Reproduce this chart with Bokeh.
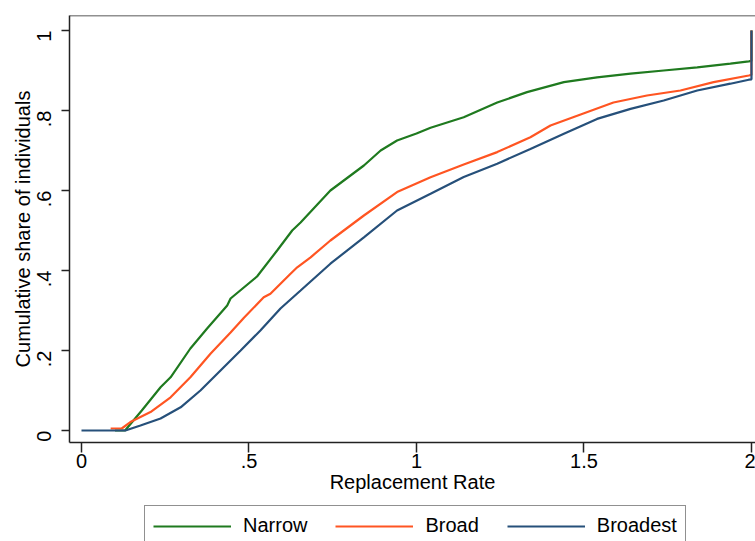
import math
from bokeh.plotting import figure
from bokeh.layouts import column
from bokeh.models import FixedTicker, Legend, LegendItem, Span, Range1d
from bokeh.embed import file_html
from bokeh.resources import INLINE

# ---- data ----
narrow_x = [0.10, 0.13, 0.18, 0.236, 0.266, 0.325, 0.375, 0.435, 0.445, 0.524, 0.584, 0.629, 0.654,
            0.743, 0.843, 0.893, 0.942, 1.0, 1.042, 1.141, 1.241, 1.33, 1.44, 1.539, 1.639, 1.738,
            1.838, 1.937, 1.992, 2.0, 2.0]
narrow_y = [0.0, 0.0, 0.05, 0.108, 0.133, 0.205, 0.255, 0.3125, 0.33, 0.385, 0.45, 0.5, 0.52,
            0.6, 0.6625, 0.70, 0.725, 0.7425, 0.757, 0.783, 0.82, 0.846, 0.871, 0.883, 0.892, 0.90,
            0.908, 0.917, 0.923, 0.924, 1.0]

broad_x = [0.087, 0.12, 0.146, 0.206, 0.266, 0.325, 0.385, 0.445, 0.485, 0.544, 0.564, 0.624, 0.644,
           0.684, 0.743, 0.843, 0.942, 1.042, 1.141, 1.241, 1.34, 1.4, 1.49, 1.588, 1.688, 1.788,
           1.887, 1.992, 2.0, 2.0]
broad_y = [0.005, 0.005, 0.021, 0.046, 0.083, 0.133, 0.192, 0.245, 0.282, 0.333, 0.342, 0.392, 0.408,
           0.433, 0.475, 0.5375, 0.596, 0.633, 0.665, 0.696, 0.733, 0.7625, 0.79, 0.82, 0.8375, 0.85,
           0.871, 0.8875, 0.889, 1.0]

broadest_x = [0.0, 0.131, 0.176, 0.236, 0.296, 0.355, 0.415, 0.475, 0.534, 0.594, 0.654, 0.743, 0.843,
              0.942, 1.042, 1.141, 1.241, 1.34, 1.44, 1.539, 1.639, 1.738, 1.838, 1.937, 1.992, 2.0, 2.0]
broadest_y = [0.0, 0.0, 0.0125, 0.03, 0.058, 0.1, 0.15, 0.2, 0.25, 0.305, 0.35, 0.417, 0.483,
              0.55, 0.592, 0.634, 0.667, 0.704, 0.742, 0.779, 0.804, 0.825, 0.85, 0.867, 0.877, 0.878, 1.0]

series_names = ["Narrow", "Broad", "Broadest"]
series_colors = ["#1f7a1f", "#ff5522", "#26507a"]

x_ticks = [0, 0.5, 1, 1.5, 2]
x_tick_labels = ["0", ".5", "1", "1.5", "2"]
y_ticks = [0, 0.2, 0.4, 0.6, 0.8, 1]
y_tick_labels = ["0", ".2", ".4", ".6", ".8", "1"]

series_x = [narrow_x, broad_x, broadest_x]
series_y = [narrow_y, broad_y, broadest_y]

FONT = "Liberation Sans"
AX = "#222222"

p = figure(width=755, height=505, output_backend="svg", toolbar_location=None,
           x_range=Range1d(-0.0358, 2.012), y_range=Range1d(-0.03, 1.0375),
           min_border_left=69, min_border_right=0, min_border_top=15, min_border_bottom=63)
p.background_fill_color = "white"
p.border_fill_color = "white"
p.outline_line_color = None
p.xgrid.visible = False
p.ygrid.visible = False

for xs, ys, col in zip(series_x, series_y, series_colors):
    p.line(xs, ys, line_color=col, line_width=2.2)

# top frame line
p.add_layout(Span(location=1.0375, dimension="width", line_color=AX, line_width=1.5))

for ax in (p.xaxis[0], p.yaxis[0]):
    ax.axis_line_color = AX
    ax.axis_line_width = 1.5
    ax.major_tick_line_color = AX
    ax.major_tick_line_width = 1.5
    ax.major_tick_in = 0
    ax.minor_tick_line_color = None
    ax.major_label_text_font = FONT
    ax.major_label_text_font_size = "20px"
    ax.major_label_text_color = "black"
    ax.axis_label_text_font = FONT
    ax.axis_label_text_font_size = "20px"
    ax.axis_label_text_font_style = "normal"
    ax.axis_label_text_color = "black"

p.xaxis.ticker = FixedTicker(ticks=x_ticks)
p.xaxis.major_label_overrides = {t: l for t, l in zip(x_ticks, x_tick_labels)}
p.xaxis.major_tick_out = 10
p.xaxis.major_label_standoff = 1
p.xaxis.axis_label = "Replacement Rate"
p.xaxis.axis_label_standoff = 0

p.yaxis.ticker = FixedTicker(ticks=y_ticks)
p.yaxis.major_label_overrides = {t: l for t, l in zip(y_ticks, y_tick_labels)}
p.yaxis.major_tick_out = 8
p.yaxis.major_label_standoff = 18
p.yaxis.major_label_orientation = math.pi / 2
p.yaxis.axis_label = "Cumulative share of individuals"
p.yaxis.axis_label_standoff = -7

# ---- legend strip below the plot ----
lg = figure(width=755, height=36, output_backend="svg", toolbar_location=None,
            x_range=Range1d(100, 101), y_range=Range1d(100, 101),
            x_axis_location=None, y_axis_location=None,
            min_border_left=0, min_border_right=0, min_border_top=0, min_border_bottom=0)
lg.outline_line_color = None
lg.xgrid.visible = False
lg.ygrid.visible = False
lg.background_fill_color = "white"
lg.border_fill_color = "white"
lg_renderers = [lg.line(xs, ys, line_color=col, line_width=2.2)
                for xs, ys, col in zip(series_x, series_y, series_colors)]

legend = Legend(items=[LegendItem(label=n, renderers=[r]) for n, r in zip(series_names, lg_renderers)],
                orientation="horizontal", location=(75, -5),
                glyph_width=78, glyph_height=20, label_standoff=12, spacing=28, padding=8,
                label_text_font=FONT, label_text_font_size="20px", label_text_color="black",
                border_line_color=AX, border_line_width=1.5, background_fill_alpha=1.0,
                margin=0)
lg.add_layout(legend, "center")

layout = column(p, lg, spacing=0)
open("out.html", "w").write(file_html(layout, INLINE))
